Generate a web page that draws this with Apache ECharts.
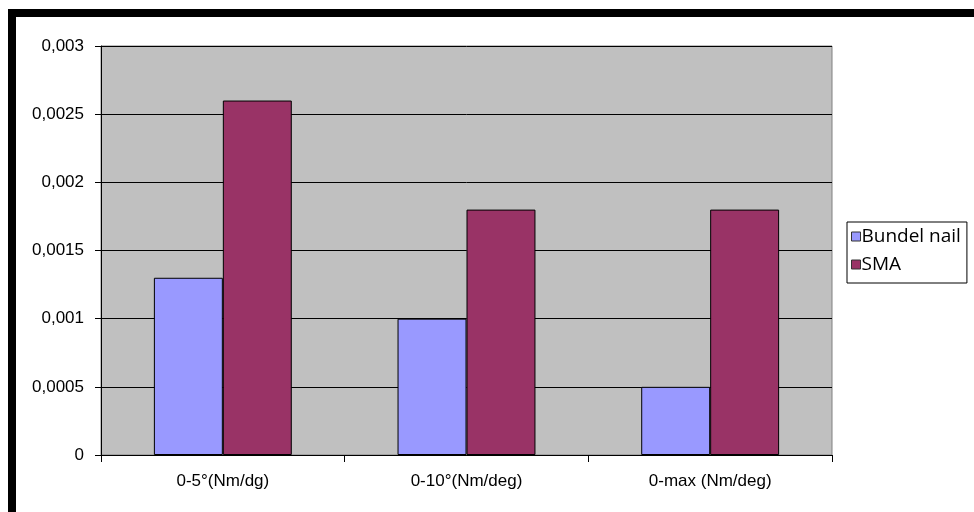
<!DOCTYPE html>
<html>
<head>
<meta charset="utf-8">
<script src="https://cdn.jsdelivr.net/npm/echarts@6/dist/echarts.min.js"></script>
<style>
  html, body { margin: 0; padding: 0; background: #ffffff; }
  #chart { width: 974px; height: 512px; }
</style>
</head>
<body>
<div id="chart"></div>
<script>
// Stiffness comparison per angle range
const categories = ['0-5°(Nm/dg)', '0-10°(Nm/deg)', '0-max (Nm/deg)'];
const bundelNail = [0.0013, 0.001, 0.0005];
const sma = [0.0026, 0.0018, 0.0018];
const yTicks = [0, 0.0005, 0.001, 0.0015, 0.002, 0.0025, 0.003];

const chart = echarts.init(document.getElementById('chart'), null, { renderer: 'canvas' });

const axisFont = { fontFamily: 'Liberation Sans, Arial, sans-serif', fontSize: 17, color: '#000' };

chart.setOption({
  animation: false,
  backgroundColor: '#ffffff',
  grid: { left: 101, top: 46, right: 142, bottom: 57, show: true, backgroundColor: '#c0c0c0', borderColor: '#808080', borderWidth: 1 },
  graphic: [
    { type: 'rect', shape: { x: 8, y: 9, width: 966, height: 8 }, style: { fill: '#000' }, z: 100 },
    { type: 'rect', shape: { x: 8, y: 9, width: 8, height: 503 }, style: { fill: '#000' }, z: 100 }
  ],
  legend: {
    orient: 'vertical',
    left: 847,
    top: 222,
    backgroundColor: '#ffffff',
    borderColor: '#000',
    borderWidth: 1,
    borderRadius: 0,
    padding: [5, 6, 9, 4],
    itemGap: 9,
    itemWidth: 9,
    itemHeight: 9,
    icon: 'rect',
    textStyle: { fontFamily: 'Open Sans, sans-serif', fontSize: 19, color: '#000', padding: [0, 0, 0, -4] },
    data: [
      { name: 'Bundel nail', itemStyle: { borderColor: '#333', borderWidth: 1 } },
      { name: 'SMA', itemStyle: { borderColor: '#333', borderWidth: 1 } }
    ]
  },
  xAxis: {
    type: 'category',
    data: categories,
    axisLine: { lineStyle: { color: '#000', width: 1 } },
    axisTick: { show: true, length: 7, lineStyle: { color: '#000' } },
    axisLabel: Object.assign({ margin: 18 }, axisFont)
  },
  yAxis: {
    type: 'value',
    min: 0,
    max: 0.003,
    interval: 0.0005,
    axisLine: { show: true, lineStyle: { color: '#000', width: 1 } },
    axisTick: { show: true, length: 6, lineStyle: { color: '#000' } },
    splitLine: { show: true, lineStyle: { color: '#000', width: 1 } },
    axisLabel: Object.assign({
      margin: 17,
      formatter: function (v) {
        const t = yTicks.find(function (k) { return Math.abs(k - v) < 1e-9; });
        return String(t !== undefined ? t : v).replace('.', ',');
      }
    }, axisFont)
  },
  series: [
    {
      name: 'Bundel nail',
      type: 'bar',
      data: bundelNail,
      barGap: '0%',
      barCategoryGap: '43.4%',
      itemStyle: { color: '#9999ff', borderColor: '#000', borderWidth: 1 }
    },
    {
      name: 'SMA',
      type: 'bar',
      data: sma,
      itemStyle: { color: '#993366', borderColor: '#000', borderWidth: 1 }
    }
  ]
});
</script>
</body>
</html>
